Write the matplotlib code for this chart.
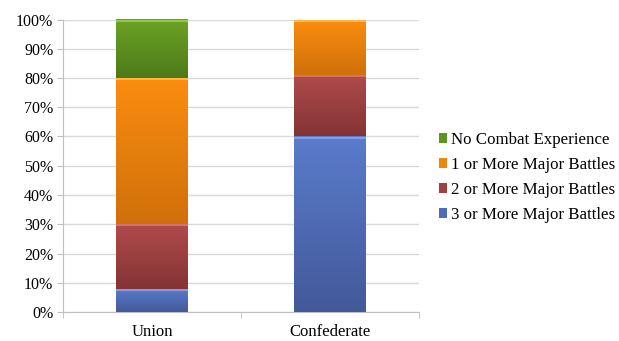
import matplotlib
matplotlib.use("Agg")
import matplotlib.pyplot as plt
import numpy as np
from matplotlib.patches import Patch
from matplotlib.colors import LinearSegmentedColormap, to_rgb

categories = ["Union", "Confederate"]
series_names = ["3 or More Major Battles", "2 or More Major Battles",
                "1 or More Major Battles", "No Combat Experience"]
three_plus = [8, 60]
two_plus = [22, 21]
one_plus = [50, 19]
no_combat = [20, 0]
yticks = [0, 10, 20, 30, 40, 50, 60, 70, 80, 90, 100]

series_values = [three_plus, two_plus, one_plus, no_combat]
colors = ["#4f6cbb", "#a23f40", "#f0860c", "#5f9420"]
light = ["#5a7ccc", "#b04b4b", "#fb8d10", "#6aa326"]
dark = ["#43599a", "#843334", "#d0700a", "#4e7a18"]
edge_top = ["#8ba5ea", "#d87a7a", "#ffc050", "#9ad24a"]

FAM = ['Liberation Serif', 'DejaVu Serif']
plt.rcParams['font.family'] = FAM
FS = 11.5

fig = plt.figure(figsize=(6.19, 3.41), dpi=100)
ax = fig.add_axes([63/619, 1 - 312/341, (419-63)/619, (312-19.5)/341])

x = np.arange(len(categories))
bottom = np.zeros(len(categories))
w = 0.4
for vals, c, lt, dk, et in zip(series_values, colors, light, dark, edge_top):
    vals = np.array(vals, dtype=float)
    bars = ax.bar(x, vals, width=w, bottom=bottom, color=c, edgecolor='none', zorder=3)
    cmap = LinearSegmentedColormap.from_list('g', [to_rgb(dk), to_rgb(lt)])
    grad = np.linspace(0, 1, 64).reshape(-1, 1)
    for bar, xi, v, b in zip(bars, x, vals, bottom):
        if v > 0:
            im = ax.imshow(grad, cmap=cmap, origin='lower', aspect='auto',
                           extent=[xi - w/2, xi + w/2, b, b + v], zorder=3.5,
                           interpolation='bilinear')
            im.set_clip_path(bar)
            ax.plot([xi - w/2, xi + w/2], [b + v - 0.4, b + v - 0.4], color=et, lw=1.2,
                    zorder=4, solid_capstyle='butt')
    bottom += vals

ax.set_xlim(-0.5, 1.5)
ax.set_ylim(0, 100)
ax.set_yticks(yticks)
ax.set_yticklabels([f"{t}%" for t in yticks], fontsize=FS, family=FAM)
ax.yaxis.grid(True, color='#d9d9d9', lw=1, zorder=0)
ax.set_xticks(x)
ax.set_xticklabels(categories, fontsize=FS + 0.5, family=FAM)
ax.set_xticks([-0.5, 0.5, 1.5], minor=True)
ax.tick_params(axis='x', which='major', length=0, pad=9)
ax.tick_params(axis='x', which='minor', length=4, color='#bfbfbf')
ax.tick_params(axis='y', length=4, color='#bfbfbf', pad=3)
for s in ['top', 'right']:
    ax.spines[s].set_visible(False)
ax.spines['left'].set_color('#bfbfbf')
ax.spines['bottom'].set_color('#bfbfbf')

handles = [Patch(facecolor=c, edgecolor='none') for c in colors]
leg = fig.legend(handles[::-1], series_names[::-1], loc='upper left',
                 bbox_to_anchor=(432/619, 1 - 125/341), frameon=False,
                 prop={'family': FAM, 'size': 12.2},
                 handlelength=0.5, handleheight=0.5, handletextpad=0.2, labelspacing=0.53,
                 borderaxespad=0)

fig.savefig("out.png", dpi=100)
